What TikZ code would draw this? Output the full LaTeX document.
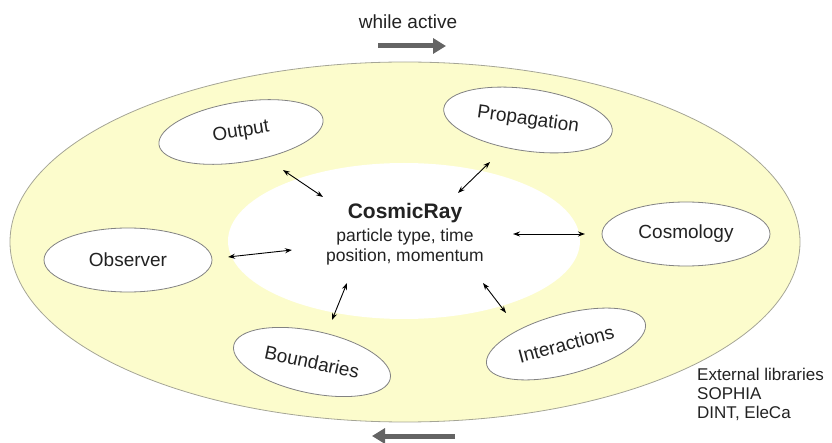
\documentclass[tikz,border=0pt]{standalone}
\usepackage{fontspec}
\setmainfont{Liberation Sans}
\usetikzlibrary{arrows.meta,shapes.geometric}
\definecolor{cream}{RGB}{252,252,204}
\definecolor{rimgray}{RGB}{165,165,150}
\definecolor{satgray}{RGB}{130,130,130}
\definecolor{txt}{RGB}{34,34,34}
\definecolor{flowgray}{RGB}{100,100,100}
\begin{document}
\begin{tikzpicture}[x=1pt,y=-1pt,
  sat/.style={ellipse,draw=satgray,line width=0.8pt,fill=white,inner sep=0pt,
    text=txt,font=\fontsize{19}{22}\selectfont},
  dbl/.style={{Stealth[length=7pt,width=5pt]}-{Stealth[length=7pt,width=5pt]},line width=0.9pt,black},
  flow/.style={-{Triangle[length=13pt,width=15pt]},line width=5pt,flowgray},
  lbl/.style={text=txt,inner sep=0pt}]
\useasboundingbox (0,0) rectangle (832,443);
\node[ellipse,draw=rimgray,line width=0.8pt,fill=cream,inner sep=0pt,
  minimum width=790pt,minimum height=360pt] (outer) at (405,242) {};
\node[ellipse,fill=white,inner sep=0pt,minimum width=352pt,minimum height=156pt] (cr) at (404,241) {};
\node[lbl,font=\fontsize{21}{24}\selectfont\bfseries] (crtitle) at (405,213) {CosmicRay};
\node[lbl,font=\fontsize{17.5}{20}\selectfont] (crline1) at (405,237) {particle type, time};
\node[lbl,font=\fontsize{17.5}{20}\selectfont] (crline2) at (405,257) {position, momentum};

\node[sat,rotate=9,minimum width=166pt,minimum height=60pt] (output) at (241,132) {Output};
\node[sat,rotate=-8,minimum width=170pt,minimum height=62pt] (prop) at (528,120) {Propagation};
\node[sat,minimum width=168pt,minimum height=64pt] (cosmo) at (686,234) {Cosmology};
\node[sat,minimum width=168pt,minimum height=64pt] (obs) at (128,260) {Observer};
\node[sat,rotate=-12,minimum width=160pt,minimum height=62pt] (bound) at (312,362) {Boundaries};
\node[sat,rotate=15,minimum width=164pt,minimum height=60pt] (inter) at (566,344) {Interactions};

\coordinate (o1) at (283,170); \coordinate (o2) at (323,197);
\coordinate (p1) at (490,162); \coordinate (p2) at (458,193);
\coordinate (c1) at (513,234); \coordinate (c2) at (585,234);
\coordinate (ob1) at (228,257); \coordinate (ob2) at (292,250);
\coordinate (b1) at (347,283); \coordinate (b2) at (332,320);
\coordinate (i1) at (483,283); \coordinate (i2) at (506,313);
\draw[dbl] (o1) -- (o2);
\draw[dbl] (p1) -- (p2);
\draw[dbl] (c1) -- (c2);
\draw[dbl] (ob1) -- (ob2);
\draw[dbl] (b1) -- (b2);
\draw[dbl] (i1) -- (i2);

\node[lbl,font=\fontsize{19}{22}\selectfont] (while) at (408,22) {while active};
\coordinate (t1) at (378,46); \coordinate (t2) at (446,46);
\draw[flow] (t1) -- (t2);
\coordinate (u1) at (455,436); \coordinate (u2) at (372,436);
\draw[flow] (u1) -- (u2);

\node[lbl,anchor=north west,align=left,font=\fontsize{17}{19}\selectfont] (ext) at (697,368)
  {External libraries\\SOPHIA\\DINT, EleCa};
\end{tikzpicture}
\end{document}
